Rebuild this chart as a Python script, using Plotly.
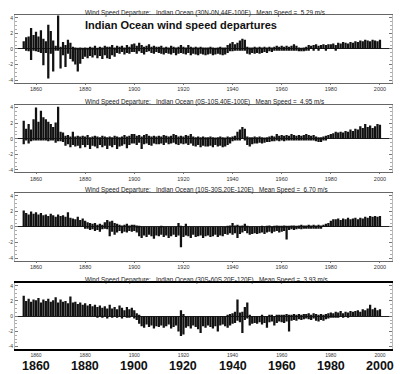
import plotly.graph_objects as go

years = list(range(1855, 2001))

# Panel 1: 30N-0N, 44E-100E  (annual max / min monthly departure, m/s)
p1_hi = [1.0, 1.5, 1.6, 2.7, 1.8,
         2.2, 1.6, 2.4, 1.3, 1.0, 3.1, 2.3, 1.1, 0.4, 4.3,
         0.3, 0.9, 0.5, 1.2, 0.8, 0.3, 0.2, 0.1, 0.2, 0.1,
         0.2, 0.1, 0.3, 0.2, 0.4, 0.1, 0.3, 0.2, 0.4, 0.3,
         0.3, 0.5, 0.2, 0.4, 0.3, 0.4, 0.2, 0.5, 0.3, 0.6,
         0.7, 0.4, 0.8, 0.5, 0.3, 0.4, 0.6, 0.3, 0.4, 0.3,
         0.3, 0.4, 0.2, 0.3, 0.2, 0.4, 0.3, 0.2, 0.3, 0.5,
         0.3, 0.2, 0.5, 0.3, 0.2, 0.3, 0.2, 0.3, 0.2, 0.2,
         0.2, 0.3, 0.2, 0.1, 0.2, 0.3, 0.2, 0.2, 0.5, 0.7,
         0.9, 0.6, 0.8, 1.1, 1.3, 1.2, 0.3, 0.2, 0.2, 0.3,
         0.2, 0.3, 0.2, 0.3, 0.2, 0.3, 0.2, 0.3, 0.4, 0.3,
         0.4, 0.3, 0.4, 0.3, 0.4, 0.6, 0.4, 0.2, 0.1, 0.2,
         0.3, 0.5, 0.4, 0.5, 0.6, 0.4, 0.5, 0.6, 0.5, 0.6,
         0.6, 0.7, 0.5, 0.8, 0.7, 0.9, 0.8, 0.7, 0.9, 0.8,
         1.0, 0.9, 1.1, 1.0, 1.2, 1.1, 1.0, 1.2, 1.1, 1.0,
         1.2]
p1_lo = [0.0, -0.2, -0.3, -1.4, -0.2,
         -0.3, -0.4, -0.5, -2.1, -0.5, -3.8, -0.6, -2.9, -0.2, -0.2,
         -2.5, -0.8, -2.3, -0.6, -1.3, -1.6, -2.0, -2.9, -1.9, -1.3,
         -1.0, -1.2, -0.9, -1.1, -0.8, -1.2, -0.9, -1.3, -0.8, -1.2,
         -1.3, -0.8, -1.0, -0.5, -0.6, -0.4, -0.7, -0.5, -0.6, -0.4,
         -0.4, -0.6, -0.3, -0.5, -0.7, -0.4, -0.3, -0.5, -0.6, -0.4,
         -0.5, -0.6, -0.7, -0.5, -0.6, -0.7, -0.5, -0.8, -0.6, -0.5,
         -0.6, -0.7, -0.5, -0.8, -0.6, -0.7, -0.8, -0.6, -0.7, -0.8,
         -0.7, -0.6, -0.8, -0.7, -0.6, -0.7, -0.8, -0.7, -0.5, -0.3,
         -0.3, -0.2, -0.2, -0.1, -0.1, -0.2, -0.6, -0.7, -0.5, -0.6,
         -0.5, -0.6, -0.5, -0.4, -0.5, -0.3, -0.4, -0.2, -0.2, -0.2,
         -0.1, -0.2, -0.1, -0.2, -0.1, -0.1, -0.2, -0.3, -0.3, -0.3,
         -0.2, -0.1, 0.0, -0.1, 0.0, -0.1, 0.0, 0.0, -0.1, 0.0,
         0.0, 0.0, -0.1, 0.0, 0.0, 0.0, 0.0, 0.0, 0.0, 0.0,
         0.0, 0.0, 0.0, 0.0, 0.0, 0.0, 0.0, 0.0, 0.0, 0.0,
         0.0]

# Panel 2: 0S-10S, 40E-100E
p2_hi = [2.3, 1.3, 1.9, 1.2, 2.5,
         4.0, 2.2, 3.6, 2.75, 2.5, 2.2, 1.9, 1.5, 2.1, 4.1,
         0.9, 0.8, 0.4, 0.5, 0.3, 0.9, 0.3, 0.4, 0.3, 0.4,
         0.3, 0.5, 0.2, 0.3, 0.4, 0.3, 0.2, 0.4, 0.3, 0.2,
         0.3, 0.2, 0.4, 0.3, 0.2, 0.3, 0.5, 0.3, 0.4, 0.6,
         0.6, 0.4, 0.5, 0.3, 0.5, 0.6, 0.4, 0.3, 0.4, 0.3,
         0.4, 0.3, 0.5, 0.4, 0.3, 0.4, 0.6, 0.5, 0.3, 0.4,
         0.3, 0.5, 0.4, 0.6, 0.3, 0.2, 0.3, 0.2, 0.3, 0.2,
         0.2, 0.3, 0.2, 0.1, 0.2, 0.3, 0.2, 0.1, 0.3, 0.2,
         0.3, 0.4, 0.9, 1.2, 1.5, 1.3, 0.3, 0.2, 0.2, 0.3,
         0.2, 0.3, 0.2, 0.1, 0.2, 0.3, 0.4, 0.3, 0.6, 0.4,
         0.5, 0.4, 0.5, 0.4, 0.6, 0.5, 0.4, 0.5, 0.4, 0.5,
         0.6, 0.5, 0.4, 0.5, 0.3, 0.2, 0.2, 0.3, 0.4, 0.5,
         0.6, 0.7, 0.9, 0.8, 0.9, 0.8, 1.0, 0.9, 1.2, 1.0,
         1.3, 1.2, 1.6, 1.4, 1.9, 1.5, 1.7, 1.4, 1.6, 1.9,
         1.8]
p2_lo = [-0.7, -0.2, -0.6, -0.3, -0.2,
         -0.2, -0.1, -0.2, -0.1, -0.2, -0.3, -0.1, -0.2, -0.5, -0.3,
         -0.3, -0.4, -0.9, -0.7, -1.1, -0.8, -1.0, -0.9, -1.2, -0.8,
         -1.1, -0.8, -1.3, -0.9, -1.0, -1.2, -0.8, -1.1, -0.9, -1.3,
         -0.9, -1.1, -0.8, -1.3, -1.0, -0.9, -0.7, -1.2, -0.8, -0.6,
         -0.6, -0.8, -0.5, -1.3, -0.7, -0.6, -0.8, -0.9, -0.6, -0.7,
         -0.7, -0.6, -0.8, -0.5, -0.7, -0.6, -0.5, -0.7, -0.8, -0.6,
         -0.7, -0.6, -0.8, -0.6, -0.9, -1.0, -0.8, -1.1, -0.9, -1.0,
         -1.0, -0.9, -1.1, -0.8, -1.0, -0.9, -1.1, -1.0, -0.8, -0.6,
         -0.3, -0.2, -0.1, -0.1, 0.0, -0.2, -0.8, -1.0, -0.7, -0.6,
         -0.6, -0.5, -0.6, -0.5, -0.4, -0.4, -0.3, -0.3, -0.2, -0.3,
         -0.2, -0.3, -0.1, -0.2, -0.2, -0.1, -0.2, -0.1, -0.2, -0.1,
         -0.1, -0.2, -0.1, -0.2, -0.3, -0.4, -0.4, -0.2, -0.1, 0.0,
         0.0, 0.0, 0.0, 0.0, 0.0, 0.0, 0.0, 0.0, 0.0, 0.0,
         0.0, 0.0, 0.0, 0.0, 0.0, 0.0, 0.0, 0.0, 0.0, 0.0,
         0.0]

# Panel 3: 10S-30S, 20E-120E
p3_hi = [2.1, 1.8, 1.6, 2.0, 1.7,
         1.9, 1.6, 1.8, 1.5, 1.6, 1.4, 1.7, 1.5, 1.3, 1.6,
         1.4, 1.5, 1.3, 1.9, 1.2, 1.1, 1.0, 1.3, 0.9, 1.1,
         0.8, 0.6, 0.5, 0.4, 0.5, 0.3, 0.4, 0.3, 0.6, 0.9,
         0.7, 0.8, 0.5, 0.4, 0.3, 0.2, 0.3, 0.4, 0.2, 0.3,
         0.3, 0.2, 0.1, 0.0, 0.0, 0.0, 0.0, 0.0, 0.0, 0.0,
         0.0, 0.1, 0.0, 0.0, 0.0, 0.0, 0.0, 0.0, 0.5, 0.1,
         0.0, 0.4, 0.0, 0.0, 0.0, 0.0, 0.0, 0.0, 0.0, 0.0,
         0.0, 0.0, 0.0, 0.0, 0.0, 0.0, 0.0, 0.0, 0.1, 0.2,
         0.5, 0.2, 0.3, 0.1, 0.2, 0.4, 0.1, 0.0, 0.0, 0.0,
         0.0, 0.0, 0.1, 0.0, 0.1, 0.2, 0.0, 0.1, 0.2, 0.1,
         0.1, 0.2, 0.1, 0.1, 0.2, 0.2, 0.1, 0.2, 0.3, 0.2,
         0.2, 0.3, 0.2, 0.3, 0.2, 0.3, 0.2, 0.3, 0.4, 0.5,
         0.8, 1.0, 1.0, 1.1, 0.9, 1.1, 1.0, 1.2, 1.0, 1.1,
         1.2, 1.0, 1.2, 1.1, 1.3, 1.2, 1.4, 1.3, 1.4, 1.3,
         1.4]
p3_lo = [0.0, 0.0, 0.0, 0.0, 0.0,
         0.0, 0.0, 0.0, 0.0, 0.0, 0.0, 0.0, 0.0, 0.0, 0.0,
         0.0, 0.0, 0.0, 0.0, 0.0, 0.0, 0.0, 0.0, 0.0, 0.0,
         -0.1, -0.2, -0.4, -0.3, -0.5, -0.4, -0.6, -0.3, -0.2, -0.3,
         -1.2, -0.6, -1.0, -0.7, -0.5, -0.8, -0.6, -0.7, -0.5, -0.6,
         -0.5, -0.7, -1.2, -1.4, -1.1, -1.3, -1.0, -1.2, -1.5, -1.1,
         -1.2, -1.0, -1.3, -1.1, -1.4, -1.2, -1.0, -1.3, -1.1, -2.6,
         -1.3, -1.1, -1.2, -1.4, -1.0, -1.3, -1.2, -1.1, -1.4, -1.2,
         -1.1, -1.3, -1.2, -1.0, -1.3, -1.1, -1.2, -0.9, -1.0, -0.8,
         -1.0, -0.8, -1.4, -0.9, -0.7, -0.5, -0.8, -1.0, -0.9, -0.8,
         -0.9, -0.8, -0.7, -0.9, -0.7, -0.6, -0.8, -0.6, -0.5, -0.7,
         -0.6, -0.5, -1.6, -0.4, -0.3, -0.4, -0.3, -0.2, -0.3, -0.2,
         -0.2, -0.1, -0.2, -0.1, -0.2, -0.1, -0.1, 0.0, 0.0, 0.0,
         0.0, 0.0, 0.0, 0.0, 0.0, 0.0, 0.0, 0.0, 0.0, 0.0,
         0.0, 0.0, 0.0, 0.0, 0.0, 0.0, 0.0, 0.0, 0.0, 0.0,
         0.0]

# Panel 4: 30S-60S, 20E-120E
p4_hi = [2.7, 2.0, 2.3, 1.9, 2.2,
         2.1, 2.4, 1.8, 2.2, 2.0, 2.3, 1.9, 2.1, 2.5, 1.8,
         2.2, 1.9, 2.0, 1.7, 2.6, 1.8, 1.9, 1.6, 1.8, 1.5,
         1.7, 1.4, 1.6, 1.3, 1.5, 1.2, 1.4, 1.1, 1.3, 1.0,
         1.5, 1.0, 1.2, 0.9, 1.4, 1.1, 0.8, 1.2, 0.9, 1.1,
         0.8, 0.4, 0.1, 0.0, 0.0, 0.0, 0.0, 0.0, 0.0, 0.0,
         0.0, 0.0, 0.0, 0.0, 0.0, 0.0, 0.0, 0.0, 0.0, 0.8,
         0.3, 0.0, 0.0, 0.0, 0.0, 0.0, 0.0, 0.0, 0.0, 0.0,
         0.0, 0.0, 0.0, 0.0, 0.0, 0.0, 0.0, 0.0, 0.2, 0.3,
         0.4, 0.6, 2.2, 0.5, 0.6, 1.2, 1.8, 0.1, 0.0, 0.0,
         0.0, 0.0, 0.1, 0.0, 0.0, 0.1, 0.2, 0.0, 0.1, 0.2,
         0.2, 0.1, 0.3, 0.1, 0.2, 0.3, 0.2, 0.3, 0.2, 0.3,
         0.3, 0.4, 0.2, 0.4, 0.3, 0.2, 0.3, 0.2, 0.3, 0.4,
         0.5, 0.4, 0.6, 0.5, 0.7, 0.4, 0.6, 0.5, 0.7, 0.6,
         0.7, 0.8, 0.6, 0.9, 0.8, 1.0, 1.5, 0.9, 1.1, 0.8,
         0.9]
p4_lo = [0.0, 0.0, 0.0, 0.0, 0.0,
         0.0, 0.0, 0.0, 0.0, 0.0, 0.0, 0.0, 0.0, 0.0, 0.0,
         0.0, 0.0, 0.0, 0.0, 0.0, 0.0, 0.0, 0.0, 0.0, 0.0,
         0.0, 0.0, 0.0, 0.0, 0.0, -0.1, 0.0, -0.2, 0.0, -0.3,
         0.0, -0.2, 0.0, -0.1, 0.0, -0.3, 0.0, -0.1, -0.2, 0.0,
         -0.3, -0.5, -1.0, -1.3, -1.5, -1.1, -1.4, -1.2, -1.6, -1.3,
         -1.4, -1.2, -1.5, -1.3, -1.1, -1.6, -1.4, -1.2, -2.0, -2.6,
         -2.4, -1.5, -1.3, -1.6, -1.2, -1.4, -1.7, -2.2, -1.3, -1.5,
         -1.2, -1.4, -1.6, -1.3, -2.0, -1.2, -1.1, -1.3, -1.5, -1.2,
         -1.0, -0.9, -0.6, -0.8, -2.2, -0.5, -0.3, -1.2, -1.0, -0.9,
         -1.0, -0.8, -1.1, -0.9, -1.5, -0.8, -0.7, -1.2, -0.9, -0.7,
         -0.8, -0.9, -0.7, -2.0, -0.6, -0.5, -0.6, -0.4, -0.5, -0.4,
         -0.3, -0.4, -0.5, -0.3, -0.6, -0.7, -0.5, -0.6, -0.4, -0.3,
         -0.2, -0.1, -0.2, -0.1, 0.0, -0.1, 0.0, -0.1, 0.0, 0.0,
         0.0, 0.0, 0.0, 0.0, 0.0, 0.0, 0.0, 0.0, 0.0, 0.0,
         0.0]

panel_titles = [
    "Wind Speed Departure:\u00a0\u00a0\u00a0Indian Ocean (30N-0N,44E-100E)\u00a0\u00a0\u00a0Mean Speed =\u00a0 5.29 m/s",
    "Wind Speed Departure:\u00a0\u00a0\u00a0Indian Ocean (0S-10S,40E-100E)\u00a0\u00a0\u00a0Mean Speed =\u00a0 4.95 m/s",
    "Wind Speed Departure:\u00a0\u00a0\u00a0Indian Ocean (10S-30S,20E-120E)\u00a0\u00a0\u00a0Mean Speed =\u00a0 6.70 m/s",
    "Wind Speed Departure:\u00a0\u00a0\u00a0Indian Ocean (30S-60S,20E-120E)\u00a0\u00a0\u00a0Mean Speed =\u00a0 3.93 m/s",
]
main_title = "Indian Ocean wind speed departures"
year_ticks = [1860, 1880, 1900, 1920, 1940, 1960, 1980, 2000]
y_ticks = [-4, -2, 0, 2, 4]

H = 374.0
W = 400.0
# panel pixel extents (top, bottom) and title pixel rows
panel_px = [(14.7, 82.5), (104.5, 172.3), (192.7, 260.5), (282.7, 349.0)]
title_px = [13, 102, 190, 280]

series = [(p1_hi, p1_lo), (p2_hi, p2_lo), (p3_hi, p3_lo), (p4_hi, p4_lo)]

FONT = "Liberation Sans, Arial, sans-serif"
fig = go.Figure()
layout = dict(
    width=400, height=374, margin=dict(l=0, r=0, t=0, b=0),
    paper_bgcolor="white", plot_bgcolor="white",
    barmode="overlay", bargap=0.08, showlegend=False,
    font=dict(family=FONT, color="#222"),
)
annotations = []
for i, (hi, lo) in enumerate(series):
    n = "" if i == 0 else str(i + 1)
    xa, ya = "x" + n, "y" + n
    for vals in (hi, lo):
        fig.add_trace(go.Bar(x=years, y=vals, xaxis=xa, yaxis=ya,
                             marker=dict(color="#111", line=dict(width=0)),
                             hoverinfo="skip"))
    top, bot = panel_px[i]
    last = (i == 3)
    layout["xaxis" + n] = dict(
        domain=[15 / W, 392 / W], range=[1851.45, 2004.9], anchor=ya,
        tickvals=year_ticks, ticktext=[str(v) for v in year_ticks],
        ticks="outside", ticklen=1 if not last else 0, tickcolor="#777",
        tickfont=dict(size=5.5 if not last else 5, color="#333"),
        showline=True, linecolor="black" if last else "#666",
        linewidth=2 if last else 1, mirror=True, showgrid=False, zeroline=False,
    )
    layout["yaxis" + n] = dict(
        domain=[1 - bot / H, 1 - top / H], range=[-4.3, 4.4], anchor=xa,
        tickvals=y_ticks, ticktext=[str(v) for v in y_ticks],
        ticks="inside", ticklen=3, tickcolor="#777",
        minor=dict(dtick=0.5, ticks="inside", ticklen=2, tickcolor="#aaa"),
        tickfont=dict(size=5, color="#333"),
        showline=True, linecolor="#bbb", linewidth=1, mirror="allticks",
        showgrid=False, zeroline=True, zerolinecolor="#222", zerolinewidth=1,
    )
    annotations.append(dict(
        text=panel_titles[i], xref="paper", yref="paper",
        x=83 / W, y=1 - title_px[i] / H, xanchor="left", yanchor="middle",
        showarrow=False, font=dict(size=6.3, color="#222", family=FONT)))

annotations.append(dict(
    text="<b>" + main_title + "</b>", xref="paper", yref="paper",
    x=83 / W, y=1 - 25.5 / H, xanchor="left", yanchor="middle",
    showarrow=False, font=dict(size=11, color="#111", family=FONT)))

for yv in year_ticks:
    annotations.append(dict(
        text="<b>" + str(yv) + "</b>", xref="x4", yref="paper",
        x=yv, y=0.0, xanchor="center", yanchor="bottom", borderpad=0,
        showarrow=False, font=dict(size=12.5, color="#111", family=FONT)))

layout["annotations"] = annotations
fig.update_layout(**layout)
fig.write_html("out.html", config={"displayModeBar": False},
               post_script="document.body.style.margin='0';document.body.style.padding='0';")
